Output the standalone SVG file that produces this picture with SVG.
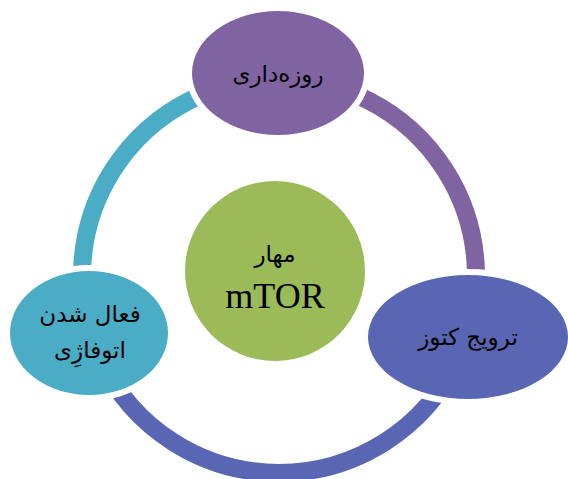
<svg xmlns="http://www.w3.org/2000/svg" width="568" height="479" viewBox="0 0 568 479">
<style>
.ring{fill:none;stroke-width:18;stroke-linecap:butt}
.node{stroke:#fff;stroke-width:12;paint-order:stroke}
.ar{font-family:"DejaVu Sans",sans-serif;font-size:23px;fill:#000;text-anchor:middle;direction:rtl}
.la{font-family:"Liberation Serif","Times New Roman",serif;font-size:36px;fill:#000;text-anchor:middle}
</style>
<rect width="568" height="479" fill="#fff"/>
<g id="connectors">
<path class="ring" stroke="#8064A2" d="M279,79 A197,197 0 0 1 457.5,359.3"/>
<path class="ring" stroke="#5966B3" d="M457.5,359.3 A197,197 0 0 1 100.5,359.3"/>
<path class="ring" stroke="#4BACC6" d="M100.5,359.3 A197,197 0 0 1 279,79"/>
</g>
<g id="center">
<circle cx="275" cy="271" r="90" fill="#9BBB59"/>
<text class="ar" x="275" y="262">مهار</text>
<text class="la" x="275" y="308">mTOR</text>
</g>
<g id="node-top">
<ellipse class="node" cx="278" cy="73" rx="86" ry="62" fill="#8064A2"/>
<text class="ar" x="278" y="82">روزه‌داری</text>
</g>
<g id="node-right">
<ellipse class="node" cx="468" cy="337" rx="100" ry="62" fill="#5966B3"/>
<text class="ar" x="468" y="345">ترویج کتوز</text>
</g>
<g id="node-left">
<ellipse class="node" cx="89" cy="333" rx="79" ry="62" fill="#4BACC6"/>
<text class="ar" x="90" y="322">فعال شدن</text>
<text class="ar" x="90" y="358">اتوفاژِی</text>
</g>
</svg>
